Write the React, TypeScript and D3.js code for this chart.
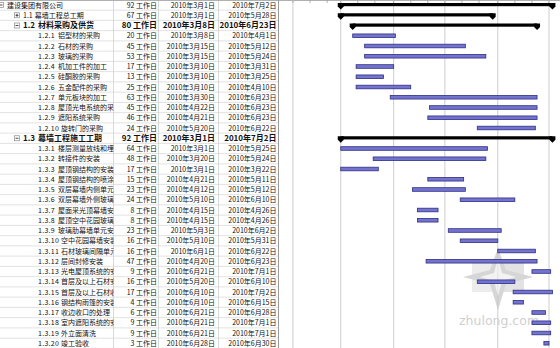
import React from 'react';
import * as d3 from 'd3';

// ---- data ----
const taskIds = ['', '1.1', '1.2', '1.2.1', '1.2.2', '1.2.3', '1.2.4', '1.2.5', '1.2.6', '1.2.7', '1.2.8', '1.2.9', '1.2.10',
  '1.3', '1.3.1', '1.3.2', '1.3.3', '1.3.4', '1.3.5', '1.3.6', '1.3.7', '1.3.8', '1.3.9', '1.3.10', '1.3.11', '1.3.12',
  '1.3.13', '1.3.14', '1.3.15', '1.3.16', '1.3.17', '1.3.18', '1.3.19', '1.3.20'];
const taskNames = ['建设集团有限公司', '幕墙工程总工期', '材料采购及供货', '铝型材的采购', '石材的采购', '玻璃的采购', '机加工件的加工',
  '硅酮胶的采购', '五金配件的采购', '单元板块的加工', '屋顶光电系统的采', '遮阳系统采购', '旋转门的采购',
  '幕墙工程施工工期', '楼层测量放线和埋', '转接件的安装', '屋顶钢结构的安装', '屋顶钢结构的喷涂', '双层幕墙内侧单元',
  '双层幕墙外侧玻璃', '屋面采光顶幕墙安', '屋顶空中花园玻璃', '玻璃肋幕墙单元安', '空中花园幕墙安装',
  '石材玻璃间隔单元', '层间封修安装', '光电屋顶系统的安', '首层及以上石材安', '首层及以上石材收',
  '钢结构雨篷的安装', '收边收口的处理', '室内遮阳系统的安', '外立面清洗', '竣工验收'];
const durations = [92, 67, 80, 20, 45, 53, 17, 13, 25, 63, 45, 46, 24,
  92, 64, 48, 17, 15, 23, 24, 8, 8, 23, 16, 16, 47, 9, 16, 17, 4, 6, 9, 9, 3];
const startDates = ['2010-03-01', '2010-03-01', '2010-03-08', '2010-03-08', '2010-03-15', '2010-03-15', '2010-03-10',
  '2010-03-10', '2010-03-10', '2010-03-30', '2010-04-22', '2010-04-21', '2010-05-20',
  '2010-03-01', '2010-03-01', '2010-03-20', '2010-03-01', '2010-04-21', '2010-04-12', '2010-05-10', '2010-04-15',
  '2010-04-15', '2010-05-03', '2010-05-10', '2010-06-01', '2010-04-20', '2010-06-21', '2010-05-20', '2010-06-10',
  '2010-06-10', '2010-06-21', '2010-06-21', '2010-06-21', '2010-06-28'];
const finishDates = ['2010-07-02', '2010-05-28', '2010-06-23', '2010-04-01', '2010-05-12', '2010-05-24', '2010-03-31',
  '2010-03-25', '2010-04-10', '2010-06-23', '2010-06-23', '2010-06-23', '2010-06-22',
  '2010-07-02', '2010-05-25', '2010-05-24', '2010-03-22', '2010-05-11', '2010-05-12', '2010-06-10', '2010-04-26',
  '2010-04-26', '2010-06-02', '2010-05-31', '2010-06-22', '2010-06-23', '2010-07-01', '2010-06-10', '2010-07-02',
  '2010-06-15', '2010-06-28', '2010-07-01', '2010-07-01', '2010-06-30'];
const outlineLevels = [0, 1, 1, 2, 2, 2, 2, 2, 2, 2, 2, 2, 2,
  1, 2, 2, 2, 2, 2, 2, 2, 2, 2, 2, 2, 2, 2, 2, 2, 2, 2, 2, 2, 2];
const summaryRows = [0, 1, 2, 13];
const boldRows = [2, 13];
const collapsedRows = [1];
const durationUnit = '工作日';

const W = 560;
const H = 348;
const FONT = "'Noto Sans CJK SC', 'Noto Sans', sans-serif";

export default function App() {
  const parse = d3.timeParse('%Y-%m-%d');
  const fmt = d3.timeFormat('%Y年%-m月%-d日');
  const starts = startDates.map((s) => parse(s) as Date);
  const ends = finishDates.map((s) => d3.timeDay.offset(parse(s) as Date, 1));

  const x = d3.scaleTime()
    .domain([parse('2010-03-01') as Date, parse('2010-07-01') as Date])
    .range([340.75, 549]);

  const rowIdx = taskNames.map((_, i) => i);
  const y = d3.scaleBand<number>().domain(rowIdx).range([-0.125, -0.125 + 10.25 * taskNames.length]);
  const cy = (i: number) => (y(i) as number) + y.bandwidth() / 2;

  const chartLeft = 279;
  const nameRight = 113.5;
  const colLines = [113.5, 158.5, 218.5];
  const durRight = 157;
  const startRight = 215;
  const finRight = 276.5;

  const d0 = x.invert(chartLeft);
  const d1 = x.invert(W);
  const months = d3.timeMonth.range(d3.timeMonth.ceil(d0), d1);
  const tenDays = d3.timeDay.range(d0, d1).filter((d) => [1, 11, 21].includes(d.getDate()));

  const outlineBox = (bx: number, by: number, plus: boolean, key: string) => (
    <g key={key}>
      <rect x={bx - 2.5} y={by - 2.5} width={5} height={5} fill="#fff" stroke="#8a8a8a" strokeWidth={0.7} />
      <line x1={bx - 1.5} x2={bx + 1.5} y1={by} y2={by} stroke="#000" strokeWidth={0.7} />
      {plus && <line x1={bx} x2={bx} y1={by - 1.5} y2={by + 1.5} stroke="#000" strokeWidth={0.7} />}
    </g>
  );

  return (
    <svg width={W} height={H} style={{ position: 'absolute', left: 0, top: 0, background: '#fff' }} fontFamily={FONT}>
      <defs>
        <clipPath id="nameClip"><rect x={0} y={0} width={nameRight} height={H} /></clipPath>
        <clipPath id="chartClip"><rect x={chartLeft} y={0} width={W - chartLeft} height={H} /></clipPath>
      </defs>
      <rect x={0} y={0} width={W} height={H} fill="#fff" />

      {/* table grid */}
      <g>
        {rowIdx.map((i) => (
          <line key={'rl' + i} x1={0} x2={chartLeft} y1={(y(i) as number) + y.bandwidth()} y2={(y(i) as number) + y.bandwidth()} stroke="#dadada" strokeWidth={0.8} />
        ))}
        {colLines.map((c) => (
          <line key={'cl' + c} x1={c} x2={c} y1={0} y2={H} stroke="#cfcfcf" strokeWidth={0.8} />
        ))}
        <line x1={0} x2={W} y1={0.5} y2={0.5} stroke="#b0b0b0" strokeWidth={1} />
        <line x1={chartLeft - 0.5} x2={chartLeft - 0.5} y1={0} y2={H} stroke="#9a9a9a" strokeWidth={1} />
      </g>

      {/* table text */}
      <g fontSize={7} fill="#111">
        {rowIdx.map((i) => {
          const lvl = outlineLevels[i];
          const bold = boldRows.includes(i);
          const c = cy(i);
          const fs = bold ? 8 : 7;
          const fw = bold ? 700 : 400;
          const base = c + fs * 0.36;
          let nameEl;
          if (lvl === 0) {
            nameEl = <text x={7} y={base} fontSize={fs} fontWeight={fw}>{taskNames[i]}</text>;
          } else if (lvl === 1) {
            nameEl = (
              <text x={23} y={base} fontSize={fs} fontWeight={fw}>
                {taskIds[i]}<tspan dx={bold ? 3 : 2}>{taskNames[i]}</tspan>
              </text>
            );
          } else {
            const nx = taskIds[i].length > 5 ? 61 : 58;
            nameEl = (
              <g>
                <text x={38} y={base} fontSize={fs} letterSpacing={0.3}>{taskIds[i]}</text>
                <text x={nx} y={base} fontSize={fs}>{taskNames[i]}</text>
              </g>
            );
          }
          return (
            <g key={'t' + i}>
              <g clipPath="url(#nameClip)">{nameEl}</g>
              <text x={durRight} y={base} fontSize={fs} fontWeight={fw} textAnchor="end">{durations[i] + ' ' + durationUnit}</text>
              <text x={startRight} y={base} fontSize={fs} fontWeight={fw} textAnchor="end">{fmt(starts[i])}</text>
              <text x={finRight} y={base} fontSize={fs} fontWeight={fw} textAnchor="end">{fmt(d3.timeDay.offset(ends[i], -1))}</text>
            </g>
          );
        })}
        {summaryRows.map((i) => outlineBox(outlineLevels[i] === 0 ? 1 : 17, cy(i), collapsedRows.includes(i), 'ob' + i))}
      </g>

      {/* chart */}
      <g clipPath="url(#chartClip)">
        {months.map((m) => (
          <line key={'m' + m.getTime()} x1={x(m)} x2={x(m)} y1={0} y2={H} stroke="#cdcdcd" strokeWidth={1} />
        ))}
        {tenDays.map((d) => (
          <line key={'td' + d.getTime()} x1={x(d)} x2={x(d)} y1={0} y2={3} stroke="#a0a0a0" strokeWidth={0.8} />
        ))}

        {/* watermark */}
        <g opacity={0.7}>
          <polygon points="472,262 498,262 498,292 472,292" fill="#e4e4e4" />
          <polygon points="498,262 524,262 524,292 498,292" fill="#d8d8d8" />
          <polygon points="498,248 506,270 533,277 506,284 498,310 490,284 463,277 490,270" fill="#c6c6c6" />
          <polygon points="498,258 502,273 516,277 502,281 498,296 494,281 480,277 494,273" fill="#eeeeee" />
        </g>
        <text x={459} y={325} fontSize={12.5} fill="#cfcfcf" fontFamily="'DejaVu Sans', sans-serif">zhulong.com</text>

        {rowIdx.map((i) => {
          const c = cy(i);
          const xs = x(starts[i]);
          const xe = x(ends[i]);
          if (summaryRows.includes(i)) {
            const cap = (cx: number) => `${cx - 3},${c - 2} ${cx + 3},${c - 2} ${cx + 3},${c + 1.5} ${cx},${c + 4.5} ${cx - 3},${c + 1.5}`;
            return (
              <g key={'b' + i} fill="#000">
                <rect x={xs} y={c - 2} width={xe - xs} height={3.2} />
                <polygon points={cap(xs)} />
                <polygon points={cap(xe)} />
              </g>
            );
          }
          return (
            <rect key={'b' + i} x={xs} y={c - 1.8} width={xe - xs} height={3.6} fill="#7474cf" stroke="#2e2e86" strokeWidth={0.8} />
          );
        })}
      </g>
    </svg>
  );
}
